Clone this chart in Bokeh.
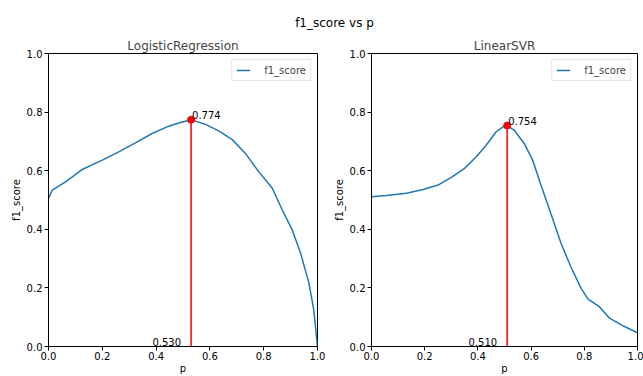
from bokeh.plotting import figure
from bokeh.layouts import column, row
from bokeh.models import Div, ColumnDataSource, Range1d, FixedTicker, PrintfTickFormatter
from bokeh.core.properties import value
from bokeh.embed import file_html
from bokeh.resources import INLINE

suptitle = "f1_score vs p"
x_label = "p"
y_label = "f1_score"
series_label = "f1_score"
ticks = [0.0, 0.2, 0.4, 0.6, 0.8, 1.0]

lr_name = "LogisticRegression"
lr_p = [0.0, 0.014, 0.063, 0.125, 0.2, 0.261, 0.323, 0.385, 0.447, 0.484, 0.53,
        0.584, 0.633, 0.683, 0.732, 0.782, 0.832, 0.869, 0.906, 0.937, 0.968, 0.986, 1.0]
lr_f1 = [0.505, 0.534, 0.562, 0.604, 0.636, 0.664, 0.695, 0.727, 0.752, 0.763, 0.774,
         0.758, 0.736, 0.706, 0.659, 0.596, 0.54, 0.466, 0.398, 0.319, 0.217, 0.126, 0.0]
lr_best_p = 0.53
lr_best_f1 = 0.774

svr_name = "LinearSVR"
svr_p = [0.0, 0.056, 0.131, 0.194, 0.25, 0.3, 0.35, 0.393, 0.431, 0.468, 0.493, 0.51,
         0.537, 0.574, 0.606, 0.637, 0.674, 0.712, 0.749, 0.787, 0.814, 0.855, 0.893, 0.949, 1.0]
svr_f1 = [0.511, 0.515, 0.523, 0.536, 0.551, 0.577, 0.608, 0.647, 0.687, 0.732, 0.749, 0.754,
          0.738, 0.693, 0.636, 0.551, 0.455, 0.353, 0.273, 0.2, 0.162, 0.137, 0.098, 0.069, 0.047]
svr_best_p = 0.51
svr_best_f1 = 0.754

FONT = "DejaVu Sans"
BLUE = "#1f77b4"


def make_plot(name, xs, ys, bp, bf, width, left, right):
    p = figure(width=width, height=346, output_backend="svg", toolbar_location=None,
               x_range=Range1d(0, 1), y_range=Range1d(0, 1), title=name,
               min_border_left=left, min_border_right=right,
               min_border_top=23, min_border_bottom=29)
    p.title.text_font = FONT
    p.title.text_font_size = "12px"
    p.title.text_font_style = "normal"
    p.title.align = "center"
    p.title.standoff = 2
    p.title.offset = 0
    p.grid.visible = False
    p.outline_line_color = "black"
    p.outline_line_width = 1
    p.outline_line_alpha = 1
    p.background_fill_color = "white"
    p.border_fill_color = "white"
    for ax in (p.xaxis, p.yaxis):
        ax.ticker = FixedTicker(ticks=ticks)
        ax.formatter = PrintfTickFormatter(format="%.1f")
        ax.major_tick_out = 4
        ax.major_tick_in = 0
        ax.minor_tick_line_color = None
        ax.axis_line_color = "black"
        ax.major_tick_line_color = "black"
        ax.major_label_text_font = FONT
        ax.major_label_text_font_size = "10px"
        ax.major_label_text_color = "black"
        ax.major_label_standoff = 2
        ax.axis_label_text_font = FONT
        ax.axis_label_text_font_size = "10px"
        ax.axis_label_text_font_style = "normal"
        ax.axis_label_text_color = "black"
        ax.axis_label_standoff = 2
    p.xaxis.axis_label = x_label
    p.yaxis.axis_label = y_label
    p.xaxis.major_label_standoff = 1
    p.xaxis.axis_label_standoff = 0
    p.yaxis.major_label_orientation = "horizontal"

    src = ColumnDataSource(dict(x=xs, y=ys))
    p.line("x", "y", source=src, line_color=BLUE, line_width=1.5, legend_label=series_label)

    best = ColumnDataSource(dict(x=[bp], y=[bf], x0=[bp], y0=[0.0],
                                 ftxt=["%.3f" % bf], ptxt=["%.3f" % bp]))
    p.segment("x0", "y0", "x", "y", source=best, line_color="red", line_width=1.5)
    p.scatter("x", "y", source=best, size=7, fill_color="red", line_color="red")
    p.text("x", "y", text="ftxt", source=best, text_font=value(FONT), text_font_size="10px",
           text_color="black", text_align="left", text_baseline="bottom",
           x_offset=1, y_offset=-1)
    p.text("x0", "y0", text="ptxt", source=best, text_font=value(FONT), text_font_size="10px",
           text_color="black", text_align="right", text_baseline="bottom",
           x_offset=-10, y_offset=-1)

    lg = p.legend[0]
    lg.location = "top_right"
    lg.margin = 6
    lg.padding = 4
    lg.spacing = 0
    lg.glyph_width = 14
    lg.glyph_height = 10
    lg.label_standoff = 14
    lg.label_text_font = FONT
    lg.label_text_font_size = "10px"
    lg.label_height = 12
    lg.border_line_color = "#cccccc"
    lg.border_line_width = 1
    lg.background_fill_alpha = 0.8
    return p


p1 = make_plot(lr_name, lr_p, lr_f1, lr_best_p, lr_best_f1, 330, 48, 13)
p2 = make_plot(svr_name, svr_p, svr_f1, svr_best_p, svr_best_f1, 313, 40, 6)

head = Div(text='<div style="width:643px;box-sizing:border-box;padding-left:26px;'
                'padding-top:16px;text-align:center;font-family:\'DejaVu Sans\';'
                'font-size:12px;line-height:14px;color:black">' + suptitle + '</div>',
           width=643, height=30, margin=(0, 0, 0, 0))

layout = column(head, row(p1, p2, spacing=0), spacing=0)
p = layout
open("out.html", "w").write(file_html(p, INLINE))
